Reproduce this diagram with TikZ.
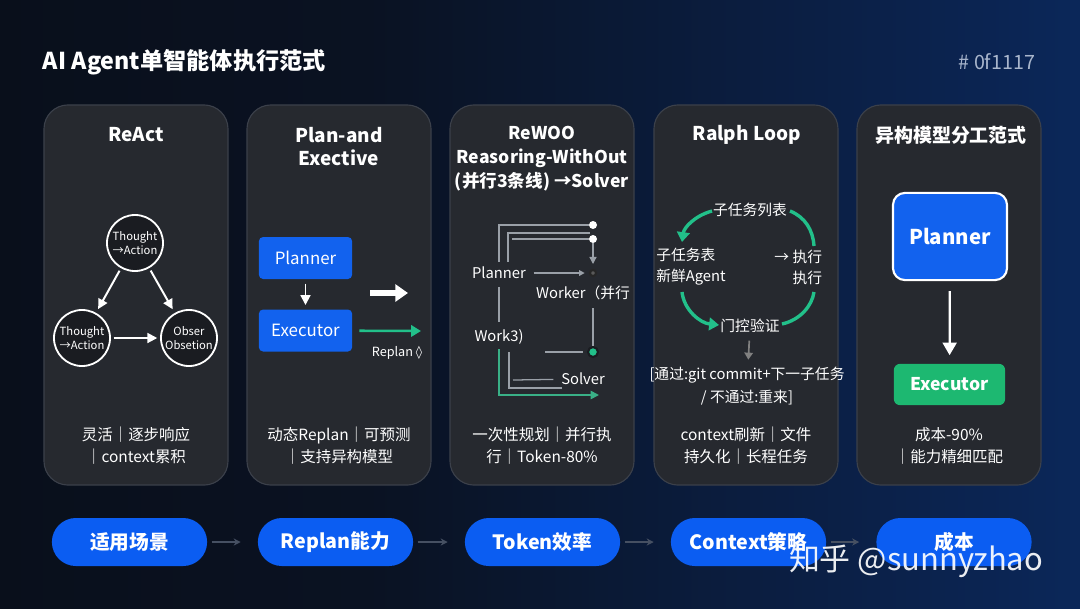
\documentclass[tikz,border=0pt]{standalone}
\usepackage{fontspec}
\setmainfont{Noto Sans CJK SC}
\newfontfamily\glyphfont{DejaVu Sans}
\usetikzlibrary{arrows.meta, positioning}

\definecolor{bgdark}{HTML}{080B11}
\definecolor{bgmid}{HTML}{0A1222}
\definecolor{bgdeep}{HTML}{0B2554}
\definecolor{bgblue}{HTML}{0D3C86}
\definecolor{cardfill}{HTML}{26292F}
\definecolor{cardline}{HTML}{3B404A}
\definecolor{circfill}{HTML}{1A1C21}
\definecolor{pillblue}{HTML}{0B5DF2}
\definecolor{boxblue}{HTML}{1262EE}
\definecolor{boxgreen}{HTML}{1DB871}
\definecolor{loopgreen}{HTML}{22C08A}
\definecolor{wiregrey}{HTML}{9AA0A8}
\definecolor{hashgrey}{HTML}{A9B6CC}
\definecolor{linkgrey}{HTML}{465062}

\pgfdeclarehorizontalshading{bgshade}{100bp}{color(0bp)=(bgdark); color(42bp)=(bgmid); color(72bp)=(bgdeep); color(100bp)=(bgblue)}

\begin{document}
\begin{tikzpicture}[x=0.025cm, y=-0.025cm,
    card/.style={draw=cardline, fill=cardfill, line width=0.8pt, rounded corners=0.6cm,
      minimum width=4.6cm, minimum height=9.5cm},
    cardtitle/.style={text=white, font=\fontsize{13.5}{16.4}\selectfont\bfseries, align=center},
    note/.style={text=white, font=\fontsize{11}{15.6}\selectfont, align=center},
    small/.style={text=white, font=\fontsize{10.5}{15}\selectfont, align=center},
    cyc/.style={circle, draw=white, line width=1.3pt, fill=circfill, minimum size=1.4cm,
      inner sep=0pt, text=white, font=\fontsize{8}{9.5}\selectfont, align=center},
    bluebox/.style={fill=boxblue, rounded corners=3pt, minimum width=2.33cm, minimum height=1.05cm,
      text=white, font=\fontsize{12}{14}\selectfont},
    pill/.style={fill=pillblue, rounded corners=0.6cm, minimum width=3.88cm, minimum height=1.2cm,
      text=white, font=\fontsize{14}{16}\selectfont\bfseries},
    whitearrow/.style={draw=white, line width=1.4pt, -{Triangle[length=7pt,width=7pt]}},
    greenarrow/.style={draw=loopgreen, line width=1.8pt, -{Triangle[length=7pt,width=8pt]}},
    wire/.style={draw=wiregrey, line width=0.9pt},
    looparrow/.style={draw=loopgreen, line width=2.4pt},
    bulb/.style={circle, fill=white, inner sep=0pt, minimum size=0.2cm}
  ]
  % background
  \shade[shading=bgshade] (0,0) rectangle (1080,608);
  \useasboundingbox (0,0) rectangle (1080,608);

  % header
  \node[anchor=west, text=white, font=\fontsize{16.5}{19}\selectfont\bfseries] (title) at (38,62) {AI Agent单智能体执行范式};
  \node[anchor=east, text=hashgrey, font=\fontsize{14}{16}\selectfont] (hash) at (1040,62) {\# 0f1117};

  % cards
  \foreach \n/\x in {react/136,plan/339,rewoo/542,ralph/746,hetero/949}
    \node[card] (\n) at (\x,295) {};

  % ReAct
  \node[cardtitle] (reacttitle) at (136,135) {ReAct};
  \node[cyc] (thinktop) at (135,243) {Thought\\→Action};
  \node[cyc] (thinkleft) at (82,338) {Thought\\→Action};
  \node[cyc] (observe) at (189,338) {Obser\\Obsetion};
  \draw[whitearrow, shorten <=2pt, shorten >=3pt] (thinktop) -- (thinkleft);
  \draw[whitearrow, shorten <=2pt, shorten >=3pt] (thinktop) -- (observe);
  \draw[whitearrow, shorten <=2pt, shorten >=2pt] (thinkleft) -- (observe);
  \node[note] (reactnote) at (136,446) {灵活｜逐步响应\\｜context累积};

  % Plan-and-Execute
  \node[cardtitle] (plantitle) at (339,146.5) {Plan-and\\Exective};
  \node[bluebox] (planner) at (305.5,258) {Planner};
  \node[bluebox] (executor) at (305.5,330.5) {Executor};
  \draw[whitearrow, shorten <=3pt, shorten >=3pt] (planner) -- (executor);
  \coordinate (fatfrom) at (370,293);
  \coordinate (fatto) at (408,293);
  \draw[draw=white, line width=4.2pt, -{Triangle[length=9pt,width=12pt]}] (fatfrom) -- (fatto);
  \coordinate (replanto) at (421,331);
  \draw[greenarrow, shorten <=5pt] (executor) -- (replanto);
  \node[text=white, font=\fontsize{9}{11}\selectfont] (replanlbl) at (397,353) {Replan {\glyphfont ◊}};
  \node[note] (plannote) at (339,446) {动态Replan｜可预测\\｜支持异构模型};

  % ReWOO
  \node[cardtitle, font=\fontsize{12.5}{17}\selectfont\bfseries] (rewootitle) at (542,159)
    {ReWOO\\Reasoring-WithOut\\(并行3条线) →Solver};
  \node[small] (plannerc) at (499,273) {Planner};
  \node[small] (workerc) at (583,293) {Worker（并行};
  \node[small] (work3) at (499,337) {Work3)};
  \node[small] (solverc) at (583,379) {Solver};
  \node[bulb] (dota) at (593,225) {};
  \node[bulb] (dotb) at (593,239) {};
  \node[circle, fill=gray!70!black, draw=gray!30!black, line width=1.5pt, inner sep=0pt, minimum size=0.15cm] (dotc) at (593,273) {};
  \node[circle, fill=loopgreen, draw=circfill, line width=1.5pt, inner sep=0pt, minimum size=0.25cm] (dotd) at (593,352) {};
  \coordinate (wa) at (508,262);
  \coordinate (wb) at (590,233);
  \coordinate (wc) at (512,239);
  \coordinate (wd) at (593,264);
  \coordinate (we) at (593,308);
  \coordinate (wf) at (545,352);
  \coordinate (wg) at (509,352);
  \coordinate (wh) at (562,388);
  \coordinate (wi) at (513,380);
  \coordinate (wj) at (599,395);
  \draw[wire] (plannerc.north) |- (dota);
  \draw[wire] (wa) |- (wb);
  \draw[wire] (wc) -- (dotb);
  \draw[wire, -{Triangle[length=5pt,width=5pt]}] (dotb) -- (wd);
  \draw[wire, -{Triangle[length=4pt,width=4pt]}, shorten <=2pt, shorten >=3pt] (plannerc) -- (dotc);
  \draw[wire] (we) -- (dotd);
  \draw[wire, shorten <=2pt, shorten >=2pt] (plannerc.south) -- (work3.north);
  \draw[wire, shorten >=3pt] (wf) -- (dotd);
  \draw[wire] (wg) |- (wh);
  \draw[wire, shorten >=2pt] (wi) -- (solverc);
  \draw[draw=loopgreen!75!gray, line width=1.2pt, -{Triangle[length=6pt,width=6pt]}] (work3.south) |- (wj);
  \node[note] (rewoonote) at (542,446) {一次性规划｜并行执\\行｜Token-80\%};

  % Ralph Loop
  \node[cardtitle] (ralphtitle) at (747,135) {Ralph Loop};
  \node[small] (subtasks) at (750,210) {子任务列表};
  \node[small, align=left] (subtab) at (691,267) {子任务表\\新鲜Agent};
  \node[small, align=right, anchor=east] (execn) at (827,267) {→ 执行\\执行};
  \node[small] (gate) at (750,326) {门控验证};
  \coordinate (la) at (712,211);
  \coordinate (lb) at (682,242);
  \coordinate (lc) at (682,292);
  \coordinate (ld) at (719,325);
  \coordinate (le) at (782,324);
  \coordinate (lf) at (814,292);
  \coordinate (lg) at (790,211);
  \coordinate (lh) at (814,246);
  \draw[looparrow, -{Triangle[length=7pt,width=9pt]}] (la) .. controls (694,216) and (684,228) .. (lb);
  \draw[looparrow, -{Triangle[length=7pt,width=9pt]}] (lc) .. controls (684,310) and (700,323) .. (ld);
  \draw[looparrow] (le) .. controls (800,320) and (812,306) .. (lf);
  \draw[looparrow] (lg) .. controls (805,217) and (813,230) .. (lh);
  \node[small, font=\fontsize{10.5}{16.4}\selectfont] (verdict) at (747,386.5)
    {[通过:git commit+下一子任务\\/ 不通过:重来]};
  \draw[draw=gray, line width=1.2pt, -{Triangle[length=5pt,width=6pt]}, shorten <=2pt, shorten >=2pt] (gate) -- (verdict);
  \node[note] (ralphnote) at (746,446) {context刷新｜文件\\持久化｜长程任务};

  % heterogeneous models
  \node[cardtitle] (heterotitle) at (951,135) {异构模型分工范式};
  \node[fill=boxblue, draw=white, line width=1.5pt, rounded corners=0.3cm, minimum width=2.85cm,
    minimum height=2.18cm, text=white, font=\fontsize{14.5}{18}\selectfont\bfseries] (bigplanner) at (950,236.5) {Planner};
  \node[fill=boxgreen, rounded corners=0.15cm, minimum width=2.78cm, minimum height=1.03cm,
    text=white, font=\fontsize{12.5}{16}\selectfont\bfseries] (bigexec) at (949.5,384.5) {Executor};
  \draw[whitearrow, line width=1.6pt, -{Triangle[length=9pt,width=10pt]}, shorten <=7pt, shorten >=6pt] (bigplanner) -- (bigexec);
  \node[note] (heteronote) at (949,446) {成本-90\%\\｜能力精细匹配};

  % bottom pills
  \node[pill] (scene) at (129.5,542) {适用场景};
  \node[pill] (replan) at (335.5,542) {Replan能力};
  \node[pill] (token) at (542.5,542) {Token效率};
  \node[pill] (context) at (748.5,542) {Context策略};
  \node[pill] (cost) at (954,542) {成本};
  \foreach \a/\b in {scene/replan,replan/token,token/context,context/cost}
    \draw[draw=linkgrey, line width=1pt, -{Stealth[length=5pt,width=5pt]}, shorten <=3pt, shorten >=12pt] (\a) -- (\b);

  % watermark
  \node[text=white, opacity=0.92, font=\fontsize{22}{26}\selectfont] (mark) at (916,561) {知乎 @sunnyzhao};
\end{tikzpicture}
\end{document}
